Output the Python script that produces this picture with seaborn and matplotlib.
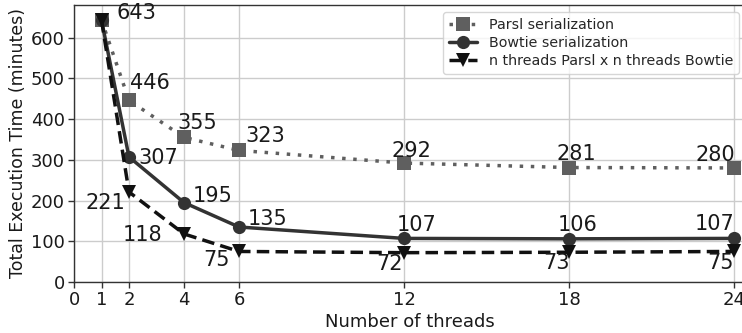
import matplotlib
matplotlib.use("Agg")
import matplotlib.pyplot as plt
import seaborn as sns
import pandas as pd

threads = [1, 2, 4, 6, 12, 18, 24]
parsl = [643, 446, 355, 323, 292, 281, 280]
bowtie = [643, 307, 195, 135, 107, 106, 107]
nthreads = [643, 221, 118, 75, 72, 73, 75]
xticks = [0, 1, 2, 4, 6, 12, 18, 24]
yticks = [0, 100, 200, 300, 400, 500, 600]

sns.set_theme(style="whitegrid")
plt.rcParams['font.family'] = ['DejaVu Sans']

fig = plt.figure(figsize=(7.42, 3.33), dpi=100)
ax = fig.add_axes([74 / 742, 1 - 282 / 333, (745 - 74) / 742, (282 - 5) / 333])

series = [
    ("Parsl serialization", parsl, "#5f5f5f", "s", (0, (1, 2.2))),
    ("Bowtie serialization", bowtie, "#333333", "o", "-"),
    ("n threads Parsl x n threads Bowtie", nthreads, "#111111", "v", (0, (3.6, 1.8))),
]
for label, vals, color, marker, ls in series:
    df = pd.DataFrame({"x": threads, "y": vals})
    sns.lineplot(data=df, x="x", y="y", ax=ax, color=color, marker=marker,
                 linestyle=ls, linewidth=2.5, markersize=9.5, markeredgewidth=0,
                 label=label)

fs = 15
# offsets in pixels: (dx, dy) with baseline alignment
p_off = [(15, 1, "left"), (1, 11, "left"), (-7, 8, "left"), (6, 8, "left"),
         (-13, 6, "left"), (-12, 8, "left"), (1, 7, "right")]
b_off = [None, (9, -7, "left"), (9, 1, "left"), (9, 2, "left"),
         (-7, 7, "left"), (-11, 8, "left"), (0, 8, "right")]
n_off = [None, (-4, -17, "right"), (-22, -7, "right"), (-9, -15, "right"),
         (-1, -17, "right"), (1, -17, "right"), (0, -18, "right")]
for vals, offs in ((parsl, p_off), (bowtie, b_off), (nthreads, n_off)):
    for x, y, off in zip(threads, vals, offs):
        if off is None:
            continue
        ax.annotate(str(y), (x, y), xytext=(off[0], off[1]),
                    textcoords="offset pixels", fontsize=fs, ha=off[2],
                    va="baseline", color="#1a1a1a", annotation_clip=False)

ax.set_xlim(0, 24.4)
ax.set_ylim(0, 680)
ax.set_xticks(xticks)
ax.set_yticks(yticks)
ax.tick_params(labelsize=13, length=4, width=1, color="#333333",
               bottom=True, left=True, pad=2.5, labelcolor="#1a1a1a")
ax.set_xlabel("Number of threads", fontsize=13, labelpad=3, color="#1a1a1a")
ax.set_ylabel("Total Execution Time (minutes)", fontsize=12.5, labelpad=3,
              color="#1a1a1a")
for s in ax.spines.values():
    s.set_color("#333333")
    s.set_linewidth(1)
ax.grid(color="#cccccc", linewidth=1)
ax.legend(loc="upper right", fontsize=10.3, frameon=True, handlelength=2,
          borderpad=0.4, labelspacing=0.3, bbox_to_anchor=(0.991, 0.975),
          borderaxespad=0)

fig.savefig("out.png", dpi=100)
